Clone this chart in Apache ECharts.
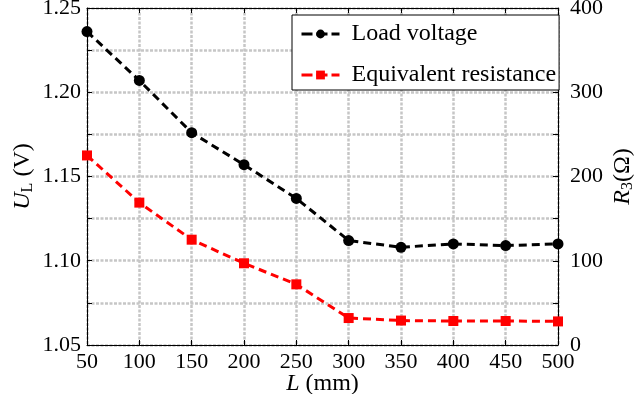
<!DOCTYPE html>
<html><head><meta charset="utf-8">
<script src="https://cdn.jsdelivr.net/npm/echarts@6/dist/echarts.min.js"></script>
<style>html,body{margin:0;padding:0;background:#fff}#c{width:641px;height:394px}</style>
</head><body><div id="c"></div>
<script>
var lengths = [50,100,150,200,250,300,350,400,450,500];
var loadVoltage = [1.236,1.207,1.176,1.157,1.137,1.112,1.108,1.110,1.109,1.110];
var equivResistance = [225,169,125,97,72,32,29,28.5,28.5,28];
var font = 'Liberation Serif';
var grid = {type:[3,1.5], color:'#c6c6c6', width:2.5};
var chart = echarts.init(document.getElementById('c'));
function pairs(xs, ys){ return xs.map(function(x,i){return [x, ys[i]];}); }
var nameRich = {
  i:{fontStyle:'italic',fontFamily:font,fontSize:24,color:'#000'},
  s:{fontFamily:font,fontSize:16,color:'#000',verticalAlign:'bottom',padding:[10,0,0,0]}
};
chart.setOption({
  animation:false,
  textStyle:{fontFamily:font},
  grid:{left:87,right:83,top:8,bottom:49,containLabel:false,outerBoundsMode:'none'},
  legend:{
    orient:'vertical', left:292, top:15,
    backgroundColor:'#fff', borderColor:'#000', borderWidth:1,
    padding:[7,3,3,8], itemGap:17, itemWidth:38, itemHeight:11,
    lineStyle:{width:3, type:[11,4]},
    textStyle:{fontFamily:font,fontSize:24,color:'#000',padding:[0,0,0,7]},
    data:['Load voltage','Equivalent resistance']
  },
  xAxis:[{
    type:'value', min:50, max:500, interval:50, position:'bottom',
    name:'{i|L} (mm)', nameLocation:'middle', nameGap:27, nameMoveOverlap:false,
    nameTextStyle:{fontFamily:font,fontSize:24,color:'#000',rich:nameRich},
    axisLine:{lineStyle:{color:'#000',width:1}},
    axisTick:{inside:true,length:5,lineStyle:{color:'#000'}},
    axisLabel:{fontFamily:font,fontSize:22,color:'#000',margin:6},
    splitLine:{show:true,lineStyle:grid}
  },{
    type:'value', min:50, max:500, interval:50, position:'top',
    axisLine:{show:true,lineStyle:{color:'#000',width:1}},
    axisTick:{show:true,inside:true,length:5,lineStyle:{color:'#000'}},
    axisLabel:{show:false}, splitLine:{show:false}
  }],
  yAxis:[{
    type:'value', min:1.05, max:1.25, interval:0.025, position:'left',
    name:'{i|U}{s|L} (V)', nameLocation:'middle', nameGap:51, nameRotate:90, nameMoveOverlap:false,
    nameTextStyle:{fontFamily:font,fontSize:24,color:'#000',rich:nameRich},
    axisLine:{show:true,lineStyle:{color:'#000',width:1}},
    axisTick:{show:true,inside:true,length:5,lineStyle:{color:'#000'}},
    axisLabel:{fontFamily:font,fontSize:22,color:'#000',margin:6,
      formatter:function(v){var k=Math.round(v*1000);return (k%50===0)?v.toFixed(2):'';}},
    splitLine:{show:true,lineStyle:grid}
  },{
    type:'value', min:0, max:400, interval:50, position:'right',
    name:'{i|R}{s|3}(Ω)', nameLocation:'middle', nameGap:52, nameRotate:90, nameMoveOverlap:false,
    nameTextStyle:{fontFamily:font,fontSize:24,color:'#000',rich:nameRich},
    axisLine:{show:true,lineStyle:{color:'#000',width:1}},
    axisTick:{show:true,inside:true,length:5,lineStyle:{color:'#000'}},
    axisLabel:{fontFamily:font,fontSize:22,color:'#000',margin:12,
      formatter:function(v){return (v%100===0)?String(v):'';}},
    splitLine:{show:false}
  }],
  series:[{
    name:'Load voltage', type:'line', xAxisIndex:0, yAxisIndex:0,
    data:pairs(lengths, loadVoltage),
    symbol:'circle', symbolSize:11,
    itemStyle:{color:'#000'},
    lineStyle:{color:'#000',width:3,type:[8,5]}
  },{
    name:'Equivalent resistance', type:'line', xAxisIndex:0, yAxisIndex:1,
    data:pairs(lengths, equivResistance),
    symbol:'rect', symbolSize:10,
    itemStyle:{color:'#ff0000'},
    lineStyle:{color:'#ff0000',width:3,type:[8,5]}
  }]
});
</script></body></html>
